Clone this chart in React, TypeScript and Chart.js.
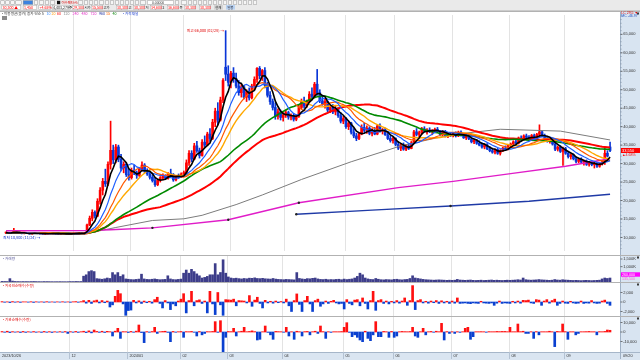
import React, { useEffect, useRef } from "react";
import { Chart, registerables } from "chart.js";

Chart.register(...registerables);

// ---------------- data ----------------
const opens = [
  11200,11300,11150,11250,11600,11300,11200,11050,11150,11100,
  10950,11100,11250,11050,11000,10900,11000,11150,11050,11100,
  10950,10900,10950,11050,11000,10900,10950,11100,11050,11200,
  11050,
  11100,13400,15200,16800,15800,19800,22800,25200,24500,29800,
  33600,31000,34500,31200,28800,29800,27000,26200,28200,27500,
  26800,28500,29600,28000,27200,26300,25400,24300,25500,26200,
  26800,26000,27300,27000,25600,26500,26300,27200,27600,30200,
  32800,31200,34800,33500,32200,35800,35000,38000,36800,41200,
  44200,41800,47200,56100,54200,52000,54500,53000,51000,49200,
  50800,48000,49500,47800,51000,52800,55800,53800,55200,51200,
  48500,46800,45200,42800,44000,42500,43200,43800,42600,43000,
  42000,42800,45200,46800,45600,46900,48800,48200,51500,49200,
  47000,46200,46800,44500,45200,44000,44800,43000,41500,42200,
  40000,41000,38500,37500,36800,38000,39800,39000,39600,38200,
  39000,38000,40200,38800,39200,37800,36800,36200,36800,35200,
  34200,35000,33900,34800,34100,35600,38600,37900,38400,39400,
  38800,39100,38600,38900,39300,38800,37900,38700,37400,37900,
  37600,38200,37500,38500,37700,37000,37500,36700,35900,36300,
  35500,35000,34500,35100,34000,33500,33100,33800,32800,33500,
  34200,33900,35000,35300,35900,35500,36900,36600,37500,37100,
  36600,37600,36800,37900,38600,37500,36900,36100,36400,35300,
  33900,34400,33300,34000,32800,31900,32300,31300,30600,31200,
  30400,30700,29800,30300,29700,30100,29300,29900,30500,32800,34500,
];
const highs = [
  11450,11400,11350,12500,11750,11400,11300,11250,11300,11200,
  11150,11350,11300,11150,11100,11050,11200,11200,11150,11150,
  11050,11000,11100,11100,11050,11000,11150,11200,11300,11250,
  11200,
  13600,15800,17500,17200,20500,23500,26000,28500,30500,41500,
  35000,35200,35000,32500,30500,30200,28500,28800,29500,28000,
  29000,30500,30000,28600,27800,27000,26000,25800,26500,27200,
  27000,27600,28500,27300,26800,27200,27500,28000,31000,33500,
  33500,35500,36000,34200,36500,37500,38500,39500,42000,45000,
  46500,48000,53000,66000,56500,55000,56000,54500,52500,51500,
  51200,50000,50500,51500,53500,56000,56300,55500,56000,52000,
  49500,47500,46500,44800,44500,43800,44500,44200,43500,43600,
  43200,45800,47500,48000,47200,49500,50500,52000,55500,50000,
  48500,47500,47000,45800,46000,45500,45200,43800,42800,42500,
  41500,41200,39500,38200,38500,40500,41000,40200,40000,39500,
  39800,40500,40800,39500,39600,38500,37500,37200,37000,36000,
  35500,35600,35200,35500,36000,39000,39500,38800,39800,40000,
  39500,39700,39200,39600,39800,39000,39000,39000,38200,38400,
  38500,38600,38800,38900,38000,37800,37900,37000,36600,36500,
  36200,35700,35300,35400,34600,34200,34000,34100,33800,34500,
  34800,35200,35600,36200,36400,37200,37500,37800,38000,37600,
  37900,38000,38200,40500,38900,38000,37400,36800,36600,35800,
  34800,34900,34500,34400,33200,32600,32600,31800,31500,31600,
  31000,31000,30600,30800,30400,30400,30200,30800,34200,33500,35800,
];
const lows = [
  11050,11100,11050,11200,11200,11100,10950,10950,11000,10900,
  10900,11050,11000,10900,10850,10850,10950,11000,10950,10900,
  10850,10800,10900,10950,10850,10800,10900,11000,11000,11000,
  10950,
  11000,13200,14500,15200,15600,19000,21500,23800,24000,28500,
  30000,30200,30500,28000,27500,26500,25500,25800,27000,26000,
  26500,28000,27500,26800,25800,25000,23800,24000,25000,25600,
  25800,25800,26800,25200,25300,26000,26200,26800,27300,29500,
  30500,31000,33000,31500,32000,34500,34800,36000,36500,40000,
  40500,41500,46500,52500,51000,50500,52000,50500,48500,48000,
  47500,46800,47200,47500,50000,52000,53000,52500,50500,48000,
  46000,44500,42000,42000,41800,41500,42500,42000,41800,41500,
  41600,42500,44800,45000,45200,46500,47800,47800,48500,46500,
  45800,45000,44000,43800,43500,43200,42500,41000,40800,39500,
  39200,38000,37000,36200,36500,37800,38500,38200,37800,37500,
  37800,37800,38500,38000,37600,36500,35800,35500,34800,33800,
  33500,33600,33500,33800,34000,35400,37500,37200,38000,38500,
  38000,38400,37800,38500,38600,37600,37500,37200,37000,37300,
  37200,37200,37300,37400,36800,36500,36500,35600,35400,35200,
  34800,34200,34000,33800,33200,32800,32600,32500,32300,33200,
  33500,33700,34500,35000,35200,35300,36200,36400,36800,36300,
  36400,36500,36600,37500,37200,36600,35800,35500,35000,33500,
  33400,33000,29500,32500,31500,31200,31000,30200,30200,30000,
  29600,29500,29300,29400,28800,29000,29000,29600,29800,31800,33200,
];
const closes = [
  11300,11150,11250,11600,11300,11200,11050,11150,11100,10950,
  11100,11250,11050,11000,10900,11000,11150,11050,11100,10950,
  10900,10950,11050,11000,10900,10950,11100,11050,11200,11050,
  11100,
  13400,15200,16800,15800,19800,22800,25200,24500,29800,33600,
  31000,34500,31200,28800,29800,27000,26200,28200,27500,26800,
  28500,29600,28000,27200,26300,25400,24300,25500,26200,26800,
  26000,27300,27000,25600,26500,26300,27200,27600,30200,32800,
  31200,34800,33500,32200,35800,35000,38000,36800,41200,44200,
  41800,47200,52500,54200,52000,54500,53000,51000,49200,50800,
  48000,49500,47800,51000,52800,55800,53800,55200,51200,48500,
  46800,45200,42800,44000,42500,43200,43800,42600,43000,42000,
  42800,45200,46800,45600,46900,48800,48200,51500,49200,47000,
  46200,46800,44500,45200,44000,44800,43000,41500,42200,40000,
  41000,38500,37500,36800,38000,39800,39000,39600,38200,39000,
  38000,40200,38800,39200,37800,36800,36200,36800,35200,34200,
  35000,33900,34800,34100,35600,38600,37900,38400,39400,38800,
  39100,38600,38900,39300,38800,37900,38700,37400,37900,37600,
  38200,37500,38500,37700,37000,37500,36700,35900,36300,35500,
  35000,34500,35100,34000,33500,33100,33800,32800,33500,34200,
  33900,35000,35300,35900,35500,36900,36600,37500,37100,36600,
  37600,36800,37900,38600,37500,36900,36100,36400,35300,33900,
  34400,33300,34000,32800,31900,32300,31300,30600,31200,30400,
  30700,29800,30300,29700,30100,29300,29900,30500,32800,32050,33550,
];
const volumeK = [
  40,35,30,220,60,35,30,25,30,28, 25,30,35,28,25,22,30,28,25,22,
  20,22,25,22,20,22,30,28,35,30, 32,
  380,470,680,740,680,220,200,180,210,260,
  230,615,470,615,365,470,200,180,160,150,
  170,190,510,200,170,160,180,200,170,150,
  160,170,405,200,160,150,170,190,575,780,
  575,825,680,530,405,260,300,365,470,470,
  1200,470,620,1450,575,330,260,230,250,220,
  200,230,210,250,240,270,230,220,240,210,
  200,190,230,190,170,160,150,170,160,150,
  140,615,230,200,180,220,210,240,260,200,
  170,160,180,150,160,150,170,180,150,190,
  160,180,200,260,365,575,470,260,200,170,
  160,230,180,150,140,160,150,140,170,180,
  150,140,160,170,230,405,260,230,200,170,
  150,140,130,120,130,140,130,120,110,120,
  110,120,170,130,120,110,120,130,110,100,
  110,120,100,110,120,130,110,120,110,100,
  110,120,110,120,130,150,130,260,150,130,
  120,130,140,160,140,130,120,110,120,160,
  130,120,150,130,120,110,100,110,100,90,
  100,110,100,90,100,110,120,200,260,230,260,
];
const foreignNet = [
  80,-60,40,-120,90,-50,60,-80,40,30, -40,60,-90,50,-30,40,-60,70,-40,30,
  -50,40,-30,60,-40,30,-70,50,90,-60, 80,
  300,-250,350,-300,250,400,-200,300,-150,200,
  -1050,-600,1200,2450,1750,-400,-2800,-1800,-1700,350,
  -200,250,-300,200,-150,150,-250,500,1000,-300,
  -1250,300,-200,-1600,-400,-800,200,600,1750,-2300,
  300,2250,-800,300,450,-300,200,-2300,2250,-400,
  -2650,2000,-600,-2800,500,450,400,600,-800,300,
  250,200,-200,1350,-900,400,1000,-300,-1250,350,
  -200,150,-250,200,-150,100,-200,600,-800,-2000,
  300,1700,-500,-2000,300,1200,-400,-2000,300,600,
  -900,-400,200,-300,150,350,-200,-400,-300,-1470,
  500,-300,-600,400,500,-800,850,-300,-1470,300,
  2250,-1750,300,500,-300,200,-400,150,-200,300,
  -250,200,850,-700,300,3450,-1600,300,500,-200,
  150,-250,200,-150,300,-300,250,-200,150,-300,
  200,-250,850,-300,-250,-200,-300,-350,-200,-250,
  -300,150,-200,-250,-300,-200,-700,-250,200,-300,
  -200,-250,-300,150,-200,200,-250,350,300,400,
  -200,-300,500,400,-700,200,500,-250,300,600,
  -700,-300,200,-250,-300,150,-200,-300,-250,200,
  -300,-200,-250,300,-200,-300,-250,200,400,-300,-700,
];
const institutionNet = [
  500,-300,800,-600,400,-200,300,-500,600,-400, 300,-200,500,-300,200,-400,600,-300,400,-500,
  300,-200,400,-300,500,-1500,400,-300,600,-400, 300,
  800,-600,1200,-900,2100,600,-400,800,-500,700,
  300,-4200,900,3860,-6700,400,300,-500,600,-300,
  900,7370,-600,-11200,400,-300,500,4900,-1500,300,
  600,800,-400,-10200,600,-300,300,500,-5600,400,
  300,600,-300,-4200,500,-3000,-1500,400,300,600,
  10900,-400,11900,-20700,-5600,500,400,3860,-4200,300,
  800,4900,300,600,1200,400,-8400,-7700,300,6300,
  -400,-3000,-7700,600,400,300,-300,4900,-4200,300,
  -7700,800,300,-4200,400,600,-3000,300,800,-1500,
  6300,400,-6700,300,-400,300,300,300,500,4900,
  9800,-400,-4900,-3000,-5600,-8400,-10200,800,-6700,-9100,
  -3000,10900,-4900,-4900,600,300,-5600,600,-5600,-4200,
  300,600,400,300,500,4900,-4200,-5600,300,3860,
  -3000,300,600,-300,800,300,9100,-8400,400,-1500,
  300,-1500,300,-400,300,3860,4900,-7700,-4900,300,
  300,400,300,-300,400,300,300,600,400,600,
  600,300,4900,300,300,8400,400,800,-1500,-1500,
  300,-6700,400,-3000,300,300,300,800,300,-15400,
  600,300,8400,400,-7700,300,300,-3000,-1500,300,
  300,400,600,300,300,-3000,400,300,600,2100,1800,
];
// long moving averages (day index -> value)
const ma120Days = [0, 31, 42, 56, 68, 75, 88, 98, 113, 132, 151, 170, 189, 212, 231];
const ma120Values = [11100, 11100, 12700, 14600, 15050, 16000, 18900, 21500, 25700, 30500, 34800, 37800, 39300, 38800, 36400];
const ma240Days = [0, 31, 40, 56, 85, 112, 150, 171, 193, 214, 231];
const ma240Values = [11800, 11900, 12100, 12600, 14800, 19400, 23500, 25200, 27300, 29300, 31300];
const ma480Days = [111, 140, 170, 200, 231];
const ma480Values = [16300, 17400, 18500, 19800, 21700];
const ma240DotDays = [56, 85, 112];
const ma480DotDays = [111, 170];

const monthStartDays = [26, 48, 68, 86, 107, 130, 149, 171, 193, 214];
const dateLabels = ["2023/10/26", "12", "2024/01", "02", "03", "04", "05", "06", "07", "08", "09"];
const lastDateLabel = "09/20";
const highDate = "02/28";
const lowDate = "11/24";
const priceTicks = [10000, 15000, 20000, 25000, 30000, 35000, 40000, 45000, 50000, 55000, 60000, 65000];
const volumeTicks = [1500, 1000];
const foreignTicks = [2000, 0, -2000];
const institutionTicks = [10000, 0, -10000];

// ---------------- style ----------------
const UP = "#ff0000";
const DOWN = "#0a36d8";
const NUMF = '"Liberation Sans", Arial, sans-serif';
const KRF = '"Noto Sans CJK KR", "Noto Sans", sans-serif';
const X_MIN = -0.76;
const X_MAX = 234.8;
const N = closes.length;

const fmt = (n: number) => Math.round(n).toLocaleString("en-US");

function txt(ctx: any, s: string, x: number, y: number, color: string, size = 4, align = "left", font = NUMF) {
  ctx.font = `${size}px ${font}`;
  ctx.fillStyle = color;
  ctx.textAlign = align;
  ctx.textBaseline = "middle";
  ctx.fillText(s, x, y);
}

function sma(period: number) {
  return closes.map((_, i) => {
    const s = Math.max(0, i - period + 1);
    let sum = 0;
    for (let k = s; k <= i; k++) sum += closes[k];
    return { x: i, y: sum / (i - s + 1) };
  });
}

function pts(days: number[], vals: number[]) {
  return days.map((d, k) => ({ x: d, y: vals[k] }));
}

function lineDs(data: any[], color: string, width: number, order: number, dots?: number[]) {
  return {
    type: "line",
    data,
    borderColor: color,
    borderWidth: width,
    pointRadius: dots ? data.map((d: any) => (dots.includes(d.x) ? 1.2 : 0)) : 0,
    pointBackgroundColor: "#222",
    pointBorderWidth: 0,
    tension: 0,
    fill: false,
    order,
  };
}

function baseOptions(yMin: number, yMax: number, bottomPad = 0): any {
  return {
    responsive: false,
    animation: false,
    events: [],
    layout: { padding: { left: 0, right: 20, top: 0, bottom: bottomPad } },
    plugins: { legend: { display: false }, tooltip: { enabled: false } },
    scales: {
      x: { type: "linear", min: X_MIN, max: X_MAX, display: false, offset: false, grace: 0 },
      y: { type: "linear", min: yMin, max: yMax, display: false, grace: 0 },
    },
  };
}

function drawGrid(chart: any) {
  const { ctx, chartArea: a, scales } = chart;
  ctx.save();
  ctx.strokeStyle = "#e3e3e3";
  ctx.lineWidth = 1;
  for (const m of monthStartDays) {
    const x = Math.round(scales.x.getPixelForValue(m - 0.5)) + 0.5;
    ctx.beginPath();
    ctx.moveTo(x, a.top);
    ctx.lineTo(x, a.bottom);
    ctx.stroke();
  }
  ctx.restore();
}

function drawRightPanel(chart: any, bottom: number) {
  const { ctx, width } = chart;
  ctx.save();
  ctx.fillStyle = "#d8e4f1";
  ctx.fillRect(620, 0, 20, bottom);
  ctx.strokeStyle = "#9fb0c4";
  ctx.lineWidth = 1;
  ctx.beginPath();
  ctx.moveTo(620.5, 0);
  ctx.lineTo(620.5, bottom);
  ctx.stroke();
  ctx.strokeStyle = "#b2b2b2";
  ctx.beginPath();
  ctx.moveTo(0, 0.5);
  ctx.lineTo(width, 0.5);
  ctx.stroke();
  ctx.fillStyle = "#3a3a3a";
  ctx.fillRect(637, 1.5, 2, 2);
  ctx.restore();
}

function drawTicks(chart: any, ticks: number[], label: (t: number) => string) {
  const { ctx, scales } = chart;
  ctx.save();
  ctx.strokeStyle = "#555";
  ctx.lineWidth = 0.8;
  for (const t of ticks) {
    const y = scales.y.getPixelForValue(t);
    ctx.beginPath();
    ctx.moveTo(620.5, y);
    ctx.lineTo(622.5, y);
    ctx.stroke();
    txt(ctx, label(t), 623.2, y, "#333");
  }
  ctx.restore();
}

const gridPlugin = { id: "monthGrid", beforeDatasetsDraw: (c: any) => drawGrid(c) };

function drawToolbar(ctx: any) {
  ctx.fillStyle = "#eaeaea";
  ctx.fillRect(0, 0, 640, 11);
  const btn = (x: number, w: number, fill = "#f6f6f6") => {
    ctx.fillStyle = fill;
    ctx.fillRect(x, 0.5, w, 4);
    ctx.strokeStyle = "#9a9a9a";
    ctx.lineWidth = 0.5;
    ctx.strokeRect(x + 0.25, 0.75, w - 0.5, 3.5);
  };
  [[0.5, 4], [5.5, 4], [10.5, 4], [15.5, 6]].forEach(([x, w]) => btn(x, w));
  btn(23, 10, "#3b82e0");
  [[34, 4], [39, 5], [45, 4], [50, 5]].forEach(([x, w]) => btn(x, w));
  ctx.fillStyle = "#111";
  ctx.fillRect(57, 0.8, 3.2, 3.4);
  txt(ctx, "이수페타시스", 61.5, 2.6, "#e00000", 3.4, "left", KRF);
  const row1 = [[78, 5], [84, 4], [89, 4], [94, 4], [99, 5], [105, 4], [110, 4], [115, 4], [120, 4], [125, 4], [130, 4], [135, 4], [140, 6], [175, 4], [181, 6], [188, 4], [193, 4], [198, 4], [203, 4], [208, 4], [213, 4], [218, 4], [223, 4], [228, 4], [233, 4], [238, 4], [243, 4], [248, 4], [253, 4]];
  row1.forEach(([x, w]) => btn(x, w));
  btn(147, 27, "#ffffff");
  txt(ctx, "0.00000", 152, 2.6, "#333", 3.4);
  const fields = [
    [1.5, 19.5, "30,300 ▲", UP], [23, 14, "1,450", UP], [38.5, 12.5, "+4.65%", UP], [52, 18, "4,403,279주", "#222"],
    [72, 12, "29,300", UP], [91, 12, "15,500", UP], [116, 12, "30,300", UP], [133, 12, "30,300", UP],
    [150, 12, "34,600", UP], [167, 12, "36,600", UP], [184, 12, "30,300", UP], [199, 12, "30,300", UP],
  ];
  fields.forEach(([x, w, s, c]: any) => {
    ctx.fillStyle = "#ffffff";
    ctx.fillRect(x, 5, w, 4.6);
    ctx.strokeStyle = "#a8a8a8";
    ctx.lineWidth = 0.5;
    ctx.strokeRect(x + 0.25, 5.25, w - 0.5, 4.1);
    txt(ctx, s, x + 1, 7.4, c, 3.6, "left", KRF);
  });
  [[84.5, "시가"], [103.5, "고가"], [128.5, "고"], [145.5, "저"], [162.5, "2"], [179.5, "목"]].forEach(([x, s]: any) =>
    txt(ctx, s, x, 7.4, "#222", 3.4, "left", KRF)
  );
  ctx.fillStyle = "#d4d4d4";
  ctx.fillRect(214, 5, 9, 4.6);
  txt(ctx, "현재", 215.2, 7.4, "#333", 3.4, "left", KRF);
  ctx.fillStyle = "#b9d3f2";
  ctx.fillRect(226, 5, 9, 4.6);
  txt(ctx, "일봉", 227.2, 7.4, "#223", 3.4, "left", KRF);
  ctx.fillStyle = "#c4c4c4";
  ctx.fillRect(0, 10.2, 640, 0.8);
}

export default function App() {
  const tbRef = useRef<HTMLCanvasElement>(null);
  const mainRef = useRef<HTMLCanvasElement>(null);
  const volRef = useRef<HTMLCanvasElement>(null);
  const forRef = useRef<HTMLCanvasElement>(null);
  const instRef = useRef<HTMLCanvasElement>(null);

  useEffect(() => {
    const tctx = tbRef.current!.getContext("2d");
    drawToolbar(tctx);

    const idx = closes.map((_, i) => i);
    const candleColors = idx.map((i) => (closes[i] >= opens[i] ? UP : DOWN));

    // ---------- main price chart ----------
    const mainPlugin = {
      id: "mainDeco",
      afterDraw(chart: any) {
        const { ctx, scales } = chart;
        drawRightPanel(chart, chart.height);
        ctx.save();
        ctx.strokeStyle = "#6b7b90";
        ctx.lineWidth = 0.5;
        for (let p = 7000; p <= 70000; p += 1000) {
          const y = scales.y.getPixelForValue(p);
          ctx.beginPath();
          ctx.moveTo(620.5, y);
          ctx.lineTo(621.7, y);
          ctx.stroke();
        }
        ctx.restore();
        drawTicks(chart, priceTicks, fmt);
        const last = closes[N - 1];
        const prev = closes[N - 2];
        const yc = scales.y.getPixelForValue(last);
        ctx.fillStyle = last >= prev ? UP : DOWN;
        ctx.fillRect(621, yc - 2.5, 19, 5);
        txt(ctx, fmt(last), 622, yc, "#ffffff");
        txt(ctx, (last >= prev ? "▲" : "▼") + (((last - prev) / prev) * 100).toFixed(2) + "%", 622, yc + 4.4, last >= prev ? UP : DOWN, 3.6);
        txt(ctx, "LC 29.5 ▼", 621.3, 2.4, "#e00000", 3.5);
        txt(ctx, "MC -46.97", 621.3, 5.4, "#2050c0", 3.5);
        // legend
        const leg: any[] = [
          [2, "• 이동평균(종가)", "#333"], [27, "종가 단순 5", "#333"], [46.5, "10", "#3a8cff"], [51.5, "20", "#ff9900"],
          [57, "60", "#ff0000"], [63.5, "120", "#888"], [72.5, "240", "#e020c0"], [81.5, "480", "#e020c0"],
          [90.5, "720", "#e020c0"], [99, "960", "#1a2fa0"], [106, "15", "#ff6600"], [112.5, "40", "#008000"],
          [123, "• 가격채널", "#1a3ccc"],
        ];
        leg.forEach(([x, s, c]) => txt(ctx, s, x, 2.6, c, 3.6, "left", KRF));
        ctx.fillStyle = "#8a8a8a";
        ctx.fillRect(2, 5, 5, 4);
        // high / low labels
        let hi = 0, lo = 0;
        highs.forEach((v, i) => { if (v > highs[hi]) hi = i; });
        lows.forEach((v, i) => { if (v < lows[lo]) lo = i; });
        txt(ctx, `최고 ${fmt(highs[hi])} (${highDate}) →`, scales.x.getPixelForValue(hi) - 1.5, scales.y.getPixelForValue(highs[hi]), "#e00000", 3.8, "right", KRF);
        txt(ctx, `최저 ${fmt(lows[lo])} (${lowDate}) →`, 3, scales.y.getPixelForValue(lows[lo]) + 2.8, "#1030d0", 3.8, "left", KRF);
      },
    };

    const mainChart = new Chart(mainRef.current!, {
      type: "bar",
      data: {
        datasets: [
          {
            type: "bar",
            data: idx.map((i) => ({ x: i, y: [lows[i], highs[i]] })),
            backgroundColor: candleColors,
            barThickness: 1,
            maxBarThickness: 1,
            grouped: false,
            borderWidth: 0,
            order: 3,
          },
          {
            type: "bar",
            data: idx.map((i) => ({ x: i, y: [Math.min(opens[i], closes[i]), Math.max(opens[i], closes[i])] })),
            backgroundColor: candleColors,
            barThickness: 2,
            maxBarThickness: 2,
            grouped: false,
            minBarLength: 1,
            borderWidth: 0,
            order: 2,
          },
          lineDs(pts(ma120Days, ma120Values), "#7c7c7c", 1, 1.8),
          lineDs(pts(ma240Days, ma240Values), "#e01cc8", 1.4, 1.7, ma240DotDays),
          lineDs(pts(ma480Days, ma480Values), "#1f3aa6", 1.4, 1.6, ma480DotDays),
          lineDs(sma(60), "#ff0000", 2, 1.5),
          lineDs(sma(40), "#008a00", 1.6, 1.4),
          lineDs(sma(20), "#ffa800", 1.4, 1.3),
          lineDs(sma(15), "#ff5a00", 1.2, 1.2),
          lineDs(sma(10), "#1f5fff", 1.2, 1.1),
          lineDs(sma(5), "#000000", 1.6, 1.0),
        ] as any,
      },
      options: baseOptions(6333, 70241),
      plugins: [gridPlugin, mainPlugin],
    } as any);

    // ---------- volume ----------
    const volPlugin = {
      id: "volDeco",
      afterDraw(chart: any) {
        const { ctx } = chart;
        drawRightPanel(chart, chart.height);
        drawTicks(chart, volumeTicks, (t) => fmt(t) + "K");
        ctx.fillStyle = "#ff00ff";
        ctx.fillRect(621, 17.3, 19, 4.4);
        txt(ctx, fmt(volumeK[N - 1] * 1000), 622, 19.5, "#ffffff", 3.6);
        let s = 0;
        for (let k = N - 20; k < N; k++) s += volumeK[k];
        txt(ctx, fmt((s / 20) * 1000), 622, 24, "#ff5fd0", 3.6);
        txt(ctx, "• 거래량", 3, 3.2, "#55559a", 3.6, "left", KRF);
      },
    };
    const volChart = new Chart(volRef.current!, {
      type: "bar",
      data: {
        datasets: [
          {
            data: idx.map((i) => ({ x: i, y: volumeK[i] })),
            backgroundColor: "#3d3d8a",
            barThickness: 2,
            maxBarThickness: 2,
            borderWidth: 0,
          },
        ],
      },
      options: baseOptions(0, 1761),
      plugins: [gridPlugin, volPlugin],
    } as any);

    // ---------- foreign net ----------
    const forPlugin = {
      id: "forDeco",
      afterDraw(chart: any) {
        const { ctx } = chart;
        drawRightPanel(chart, chart.height);
        drawTicks(chart, foreignTicks, fmt);
        txt(ctx, "• 외국인순매수(수량)", 3, 3.2, "#e00000", 3.6, "left", KRF);
      },
    };
    const forChart = new Chart(forRef.current!, {
      type: "bar",
      data: {
        datasets: [
          {
            data: idx.map((i) => ({ x: i, y: foreignNet[i] })),
            backgroundColor: idx.map((i) => (foreignNet[i] >= 0 ? "#ff1010" : "#0a40d0")),
            barThickness: 2,
            maxBarThickness: 2,
            borderWidth: 0,
          },
        ],
      },
      options: baseOptions(-2947, 4210),
      plugins: [gridPlugin, forPlugin],
    } as any);

    // ---------- institution net + date strip ----------
    const instPlugin = {
      id: "instDeco",
      afterDraw(chart: any) {
        const { ctx, chartArea: a, scales, width, height } = chart;
        drawRightPanel(chart, a.bottom);
        drawTicks(chart, institutionTicks, fmt);
        txt(ctx, "• 기관순매수(수량)", 3, 3.2, "#e00000", 3.6, "left", KRF);
        // date strip
        ctx.fillStyle = "#dae5f1";
        ctx.fillRect(0, a.bottom, width, height - a.bottom);
        ctx.strokeStyle = "#a6b6c9";
        ctx.lineWidth = 1;
        ctx.beginPath();
        ctx.moveTo(0, a.bottom + 0.5);
        ctx.lineTo(width, a.bottom + 0.5);
        ctx.stroke();
        const ym = a.bottom + 3.8;
        txt(ctx, dateLabels[0], 2, ym, "#333", 3.8);
        monthStartDays.forEach((m, k) => {
          const x = Math.round(scales.x.getPixelForValue(m - 0.5)) + 0.5;
          ctx.strokeStyle = "#b4c2d3";
          ctx.beginPath();
          ctx.moveTo(x, a.bottom);
          ctx.lineTo(x, a.bottom + 7);
          ctx.stroke();
          txt(ctx, dateLabels[k + 1], x + 2, ym, "#333", 3.8);
        });
        ctx.strokeStyle = "#9fb0c4";
        ctx.beginPath();
        ctx.moveTo(620.5, a.bottom);
        ctx.lineTo(620.5, a.bottom + 7);
        ctx.stroke();
        txt(ctx, lastDateLabel, 623, ym, "#333", 3.8);
      },
    };
    const instChart = new Chart(instRef.current!, {
      type: "bar",
      data: {
        datasets: [
          {
            data: idx.map((i) => ({ x: i, y: institutionNet[i] })),
            backgroundColor: idx.map((i) => (institutionNet[i] >= 0 ? "#ff1010" : "#0a40d0")),
            barThickness: 2,
            maxBarThickness: 2,
            borderWidth: 0,
          },
        ],
      },
      options: baseOptions(-21052, 16842, 8),
      plugins: [gridPlugin, instPlugin],
    } as any);

    return () => {
      mainChart.destroy();
      volChart.destroy();
      forChart.destroy();
      instChart.destroy();
    };
  }, []);

  const cv = (top: number, h: number): React.CSSProperties => ({ position: "absolute", left: 0, top, width: 640, height: h, display: "block" });

  return (
    <div style={{ position: "fixed", left: 0, top: 0, width: 640, height: 360, background: "#ffffff", overflow: "hidden" }}>
      <canvas ref={tbRef} width={640} height={11} style={cv(0, 11)} />
      <canvas ref={mainRef} width={640} height={244} style={cv(11, 244)} />
      <canvas ref={volRef} width={640} height={27} style={cv(255, 27)} />
      <canvas ref={forRef} width={640} height={34} style={cv(282, 34)} />
      <canvas ref={instRef} width={640} height={44} style={cv(316, 44)} />
    </div>
  );
}
